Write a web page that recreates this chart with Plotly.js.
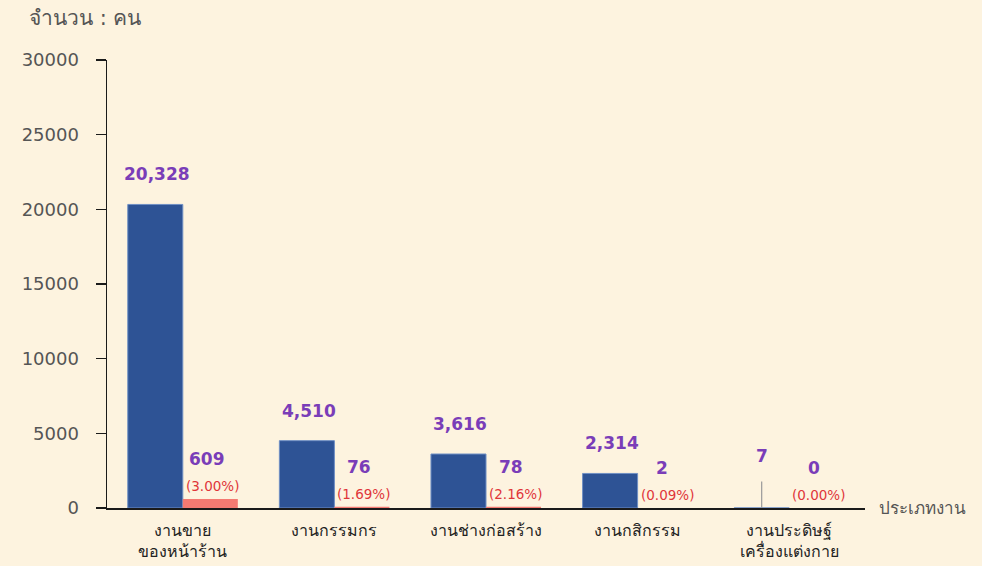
<!DOCTYPE html>
<html>
<head>
<meta charset="utf-8">
<script src="https://cdn.plot.ly/plotly-3.0.1.min.js"></script>
<style>html,body{margin:0;padding:0;background:#FDF3DF;}</style>
</head>
<body>
<div id="chart" style="width:982px;height:566px;"></div>
<script>
var categories = ["งานขาย<br>ของหน้าร้าน", "งานกรรมกร", "งานช่างก่อสร้าง", "งานกสิกรรม", "งานประดิษฐ์<br>เครื่องแต่งกาย"];
var totalWorkers = [20328, 4510, 3616, 2314, 7];
var foreignWorkers = [609, 76, 78, 2, 0];
var percentLabels = ["(3.00%)", "(1.69%)", "(2.16%)", "(0.09%)", "(0.00%)"];
var yTickVals = [0, 5000, 10000, 15000, 20000, 25000, 30000];

var FONT = "'DejaVu Sans', Tahoma, 'Noto Sans', sans-serif";
var plotW = 982 - 107 - 117;
var barHalf = plotW / categories.length * (1 - 0.274) / 4;

function fmt(v){ return v.toLocaleString('en-US'); }

var annotations = [];
for (var i = 0; i < categories.length; i++) {
  if (totalWorkers[i] < 500) {
    annotations.push({x: categories[i], y: totalWorkers[i], xref:'x', yref:'y', text: fmt(totalWorkers[i]),
      showarrow: true, arrowhead: 0, arrowwidth: 1.2, arrowcolor: '#9a9a9a', ax: 0, ay: -52, startstandoff: 14,
      xshift: -barHalf, font: {family: FONT, size: 17, color: '#7A3DB8', weight: 'bold'}});
  } else {
    annotations.push({x: categories[i], y: totalWorkers[i], xref:'x', yref:'y', text: fmt(totalWorkers[i]),
      showarrow: false, yanchor: 'middle', yshift: 30, xshift: -barHalf + 2,
      font: {family: FONT, size: 17, color: '#7A3DB8', weight: 'bold'}});
  }
  annotations.push({x: categories[i], y: foreignWorkers[i], xref:'x', yref:'y', text: fmt(foreignWorkers[i]),
    showarrow: false, yanchor: 'middle', yshift: 40, xshift: barHalf - 3,
    font: {family: FONT, size: 17, color: '#7A3DB8', weight: 'bold'}});
  annotations.push({x: categories[i], y: foreignWorkers[i], xref:'x', yref:'y', text: percentLabels[i],
    showarrow: false, yanchor: 'middle', yshift: 13, xshift: barHalf + 2,
    font: {family: FONT, size: 13.5, color: '#E0363A'}});
}
annotations.push({xref:'paper', yref:'paper', x: 0, y: 1, xanchor:'left', yanchor:'middle', xshift: -80, yshift: 42,
  text: 'จำนวน : คน', showarrow: false, font: {family: FONT, size: 21, color: '#555'}});
annotations.push({xref:'paper', yref:'y', x: 1, y: 0, xanchor:'left', yanchor:'middle', xshift: 12,
  text: 'ประเภทงาน', showarrow: false, font: {family: FONT, size: 17, color: '#555'}});

var traces = [
  {type:'bar', x: categories, y: totalWorkers, name:'total', marker:{color:'#2E5395', line:{color:'#6F8FC4', width:1}}, hoverinfo:'none'},
  {type:'bar', x: categories, y: foreignWorkers, name:'part', marker:{color:'#F47A72'}, hoverinfo:'none'}
];

var layout = {
  width: 982, height: 566,
  paper_bgcolor: '#FDF3DF', plot_bgcolor: '#FDF3DF',
  margin: {l:107, r:117, t:60, b:58},
  barmode: 'group', bargap: 0.274, bargroupgap: 0,
  showlegend: false,
  xaxis: {type:'category', showline: true, linecolor:'#1a1a1a', linewidth:1.5, ticks:'', showgrid:false,
    tickfont:{family: FONT, size: 16, color:'#222'}, ticklabelstandoff: 7},
  yaxis: {range:[0,30000], tickvals: yTickVals, ticktext: yTickVals.map(String), showline:true, linecolor:'#1a1a1a', linewidth:1.5,
    ticks:'outside', ticklen:10, tickwidth:1.5, tickcolor:'#1a1a1a', showgrid:false, zeroline:false,
    tickfont:{family: FONT, size: 18, color:'#555'}, ticklabelstandoff: 13},
  annotations: annotations
};

Plotly.newPlot('chart', traces, layout, {displayModeBar:false, staticPlot:true});
</script>
</body>
</html>
